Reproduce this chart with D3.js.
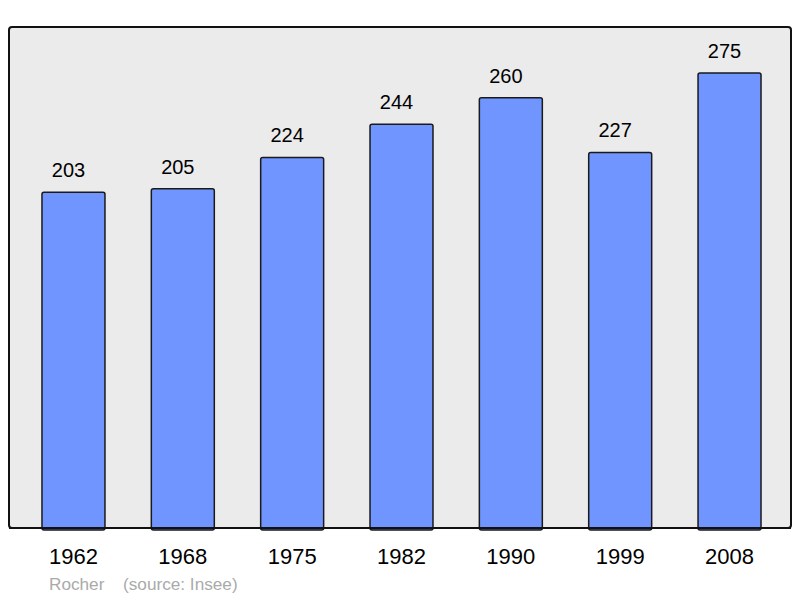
<!DOCTYPE html>
<html lang="fr">
<head>
    <meta charset="UTF-8">
    <title> Population </title>
    <script src="https://cdn.jsdelivr.net/npm/d3@7"></script>
    <style>
        body { margin: 0; background: #fff; }
        text { font-family: "Liberation Sans", Arial, sans-serif; }
    </style>
</head>
<body>
<svg width="800" height="598"></svg>
<script>
    let years = ["1962", "1968", "1975", "1982", "1990", "1999", "2008"];
    let population = [203, 205, 224, 244, 260, 227, 275];
    let commune = "Rocher";
    let source = "(source: Insee)";

    let data = years.map(function (y, i) { return {year: y, value: population[i]} });

    let svg = d3.select('svg');

    // background panel
    svg.append('rect')
        .attr('x', 9).attr('y', 27)
        .attr('width', 782).attr('height', 501)
        .attr('rx', 3)
        .style('fill', '#ebebeb')
        .style('stroke', '#111')
        .style('stroke-width', '2px');

    let scaleX = d3.scaleBand().domain(years).range([18.8, 784.2])
        .paddingInner(0.424).paddingOuter(0.212);
    let scaleY = d3.scaleLinear().domain([0, 275]).range([528, 73]);

    svg.selectAll('rect.bar')
        .data(data)
        .enter().append('rect')
        .attr('class', 'bar')
        .attr('x', function (d) { return scaleX(d.year) })
        .attr('y', function (d) { return scaleY(d.value) })
        .attr('width', scaleX.bandwidth())
        .attr('height', function (d) { return scaleY(0) - scaleY(d.value) + 2 })
        .attr('rx', 2)
        .style('fill', '#7095ff')
        .style('stroke', '#1a1a1a')
        .style('stroke-width', '1.5px');

    // redraw panel bottom edge over bar bottoms
    svg.append('line')
        .attr('x1', 9).attr('x2', 791)
        .attr('y1', 528).attr('y2', 528)
        .style('stroke', '#111')
        .style('stroke-width', '2px');

    // value labels sit a little left of the bar centre
    svg.selectAll('text.val')
        .data(data)
        .enter().append('text')
        .attr('class', 'val')
        .attr('x', function (d) { return scaleX(d.year) + scaleX.bandwidth() / 2 - 5 })
        .attr('y', function (d) { return scaleY(d.value) - 15 })
        .attr('text-anchor', 'middle')
        .style('font-size', '20px')
        .style('fill', '#000')
        .text(function (d) { return d.value });

    let axis = svg.append('g')
        .attr('transform', 'translate(0,528)')
        .call(d3.axisBottom(scaleX).tickSize(0).tickPadding(20));
    axis.select('.domain').remove();
    axis.selectAll('text')
        .style('font-size', '22px')
        .style('font-family', '"Liberation Sans", Arial, sans-serif')
        .style('fill', '#000');

    svg.append('text')
        .attr('x', 49).attr('y', 590)
        .style('font-size', '17.2px')
        .style('fill', '#aaaaaa')
        .text(commune);
    svg.append('text')
        .attr('x', 123).attr('y', 590)
        .style('font-size', '17.2px')
        .style('fill', '#aaaaaa')
        .text(source);
</script>
</body>
</html>
